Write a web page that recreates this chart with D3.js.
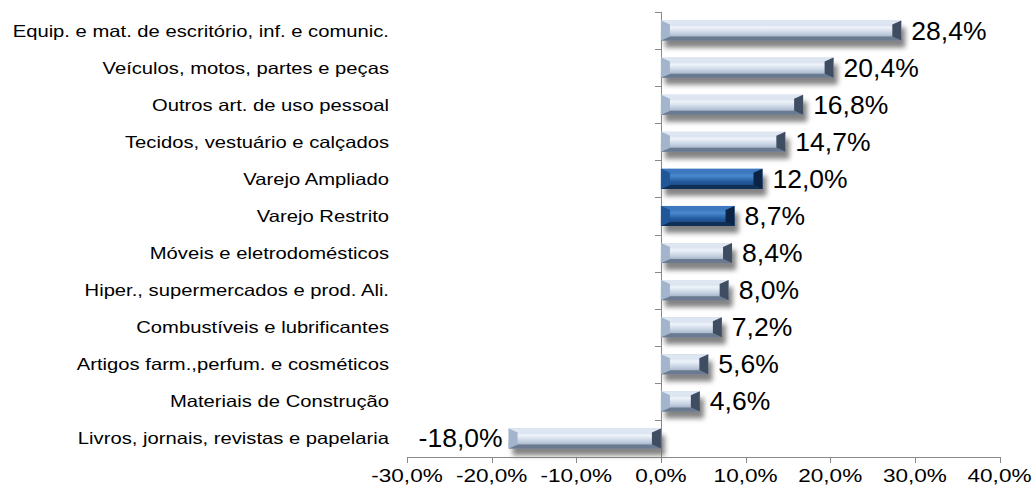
<!DOCTYPE html>
<html><head><meta charset="utf-8">
<script src="https://cdn.jsdelivr.net/npm/d3@7"></script>
<style>body{margin:0;background:#fff}svg{display:block}</style>
</head><body><svg id="c" width="1034" height="494" font-family="Liberation Sans, Arial, sans-serif"></svg>
<script>
const categories = ["Equip. e mat. de escritório, inf. e comunic.","Veículos, motos, partes e peças","Outros art. de uso pessoal","Tecidos, vestuário e calçados","Varejo Ampliado","Varejo Restrito","Móveis e eletrodomésticos","Hiper., supermercados e prod. Ali.","Combustíveis e lubrificantes","Artigos farm.,perfum. e cosméticos","Materiais de Construção","Livros, jornais, revistas e papelaria"];
const values = [28.4,20.4,16.8,14.7,12.0,8.7,8.4,8.0,7.2,5.6,4.6,-18.0];
const highlighted = ["Varejo Ampliado","Varejo Restrito"];
const xTicks = [-30,-20,-10,0,10,20,30,40];

const svg = d3.select("#c");
const x = d3.scaleLinear().domain([-30,40]).range([407,999.5]);
const y = d3.scaleBand().domain(categories).range([12,457]).paddingInner(0.46).paddingOuter(0.23);
const fmt = v => d3.format(".1f")(v).replace(".",",").replace("\u2212","-")+"%";

const defs = svg.append("defs");
const f = defs.append("filter").attr("id","sh").attr("x","-20%").attr("y","-50%").attr("width","140%").attr("height","200%");
f.append("feGaussianBlur").attr("stdDeviation",2.5);
function grad(id, stops){
  const g = defs.append("linearGradient").attr("id",id).attr("x1",0).attr("y1",0).attr("x2",0).attr("y2",1);
  stops.forEach(([o,c])=>g.append("stop").attr("offset",o).attr("stop-color",c));
}
grad("faceL",[[0,"#bccbdf"],[0.35,"#eef3fa"],[0.65,"#c2cfe0"],[1,"#8797ad"]]);
grad("faceD",[[0,"#2a64a8"],[0.35,"#4a88cf"],[0.65,"#22599c"],[1,"#153f72"]]);
const pal = {
  L:{face:"url(#faceL)",top:"#dde6f1",bot:"#6a7a90",left:"#a3b5cc",right:"#3e4d61"},
  D:{face:"url(#faceD)",top:"#3b78c0",bot:"#0f2f57",left:"#1f5798",right:"#0b2445"}
};

// axes lines
const gAx = svg.append("g").attr("stroke","#888").attr("stroke-width",1).attr("shape-rendering","crispEdges");
const axY = 457;
gAx.append("line").attr("x1",x(-30)).attr("x2",x(40)).attr("y1",axY).attr("y2",axY);
xTicks.forEach(t=>gAx.append("line").attr("x1",Math.round(x(t))).attr("x2",Math.round(x(t))).attr("y1",axY).attr("y2",axY+6));
const x0 = Math.round(x(0));
gAx.append("line").attr("x1",x0).attr("x2",x0).attr("y1",12).attr("y2",axY);
for(let i=0;i<categories.length;i++){
  const yy = Math.round(12 + i*(445/categories.length));
  gAx.append("line").attr("x1",x0-6).attr("x2",x0).attr("y1",yy).attr("y2",yy);
}

function stretchText(sel, sx){
  sel.each(function(){
    const t = d3.select(this);
    const tx = +t.attr("x"), ty = +t.attr("y");
    t.attr("x",0).attr("y",0).attr("transform",`translate(${tx},${ty}) scale(${sx},1)`);
  });
}

// tick labels
svg.append("g").selectAll("text").data(xTicks).join("text")
  .attr("x",d=>x(d)).attr("y",482).attr("text-anchor","middle")
  .attr("font-size",18.5).attr("fill","#000").text(d=>fmt(d))
  .call(stretchText,1.22);

// category labels
svg.append("g").selectAll("text").data(categories).join("text")
  .attr("x",389).attr("y",d=>y(d)+y.bandwidth()/2+6)
  .attr("text-anchor","end").attr("font-size",16.3).attr("fill","#000").text(d=>d)
  .call(stretchText,1.24);

// bars
const data = categories.map((c,i)=>({c,v:values[i]}));
const gb = svg.append("g");
data.forEach(d=>{
  const x1 = Math.min(x(0),x(d.v)), x2 = Math.max(x(0),x(d.v));
  const y1 = y(d.c), h = y.bandwidth(), y2 = y1+h;
  const p = highlighted.includes(d.c)?pal.D:pal.L;
  const g = gb.append("g");
  g.append("rect").attr("x",x1+4).attr("y",y1+7).attr("width",x2-x1).attr("height",h)
    .attr("fill","#6e6e6e").attr("opacity",0.85).attr("filter","url(#sh)");
  const bw = 4, ew = Math.min(9,(x2-x1)/3);
  const poly = pts => g.append("polygon").attr("points",pts.map(q=>q.join(",")).join(" "));
  g.append("rect").attr("x",x1).attr("y",y1).attr("width",x2-x1).attr("height",h).attr("fill",p.face);
  poly([[x1,y1],[x2,y1],[x2-ew,y1+bw],[x1+ew,y1+bw]]).attr("fill",p.top);
  poly([[x1,y2],[x2,y2],[x2-ew,y2-bw],[x1+ew,y2-bw]]).attr("fill",p.bot);
  poly([[x1,y1],[x1+ew,y1+bw],[x1+ew,y2-bw],[x1,y2]]).attr("fill",p.left);
  poly([[x2,y1],[x2-ew,y1+bw],[x2-ew,y2-bw],[x2,y2]]).attr("fill",p.right);
});

// value labels
svg.append("g").selectAll("text").data(data).join("text")
  .attr("x",d=>d.v>=0?x(d.v)+10:x(d.v)-6)
  .attr("y",d=>y(d.c)+y.bandwidth()/2+9)
  .attr("text-anchor",d=>d.v>=0?"start":"end")
  .attr("font-size",26).attr("fill","#000").text(d=>fmt(d.v))
  .call(stretchText,1.02);
</script></body></html>
